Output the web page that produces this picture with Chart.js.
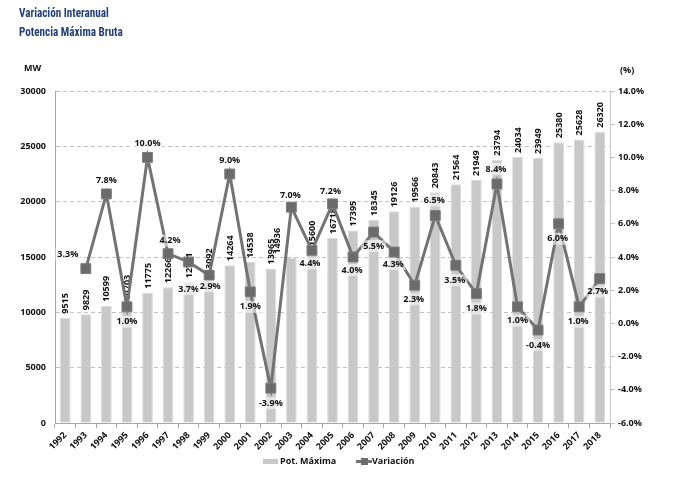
<!DOCTYPE html>
<html><head><meta charset="utf-8">
<script src="https://cdn.jsdelivr.net/npm/chart.js@4.4.1/dist/chart.umd.min.js"></script>
<style>
html,body{margin:0;padding:0;background:#fff;}
#wrap{position:relative;width:690px;height:481px;overflow:hidden;}
canvas{position:absolute;left:0;top:0;}
.t{position:absolute;font-family:"Liberation Sans Narrow","Roboto Condensed","Roboto",sans-serif;font-weight:bold;color:#213f7d;font-size:12px;line-height:14px;white-space:nowrap;transform:scaleX(0.93);transform-origin:0 0;}
.u{position:absolute;font-family:"Open Sans",sans-serif;font-weight:700;font-size:9px;line-height:12px;color:#111;white-space:nowrap;}
</style></head><body>
<div id="wrap">
<canvas id="c" width="690" height="481"></canvas>
<div class="t" style="left:19px;top:6px">Variación Interanual</div>
<div class="t" style="left:19px;top:25px">Potencia Máxima Bruta</div>
<div class="u" style="left:24px;top:62px">MW</div>
<div class="u" style="left:620px;top:64px">(%)</div>
</div>
<script>
const years = ['1992','1993','1994','1995','1996','1997','1998','1999','2000','2001','2002','2003','2004','2005','2006','2007','2008','2009','2010','2011','2012','2013','2014','2015','2016','2017','2018'];
const potMaxima = [9515,9829,10599,10703,11775,12266,12721,13092,14264,14538,13965,14936,15600,16718,17395,18345,19126,19566,20843,21564,21949,23794,24034,23949,25380,25628,26320];
const variacion = [null,3.3,7.8,1.0,10.0,4.2,3.7,2.9,9.0,1.9,-3.9,7.0,4.4,7.2,4.0,5.5,4.3,2.3,6.5,3.5,1.8,8.4,1.0,-0.4,6.0,1.0,2.7];
const seriesNames = ['Pot. Máxima','Variación'];

const FONT = '"Open Sans", "DejaVu Sans", sans-serif';
Chart.defaults.font.family = FONT;
Chart.defaults.font.size = 9;
Chart.defaults.font.weight = 'bold';
Chart.defaults.color = '#111';

const labelPlugin = {
  id: 'valueLabels',
  afterDatasetDraw(chart, args, opts) {
    if (args.index !== 0) return;
    const ctx = chart.ctx;
    const meta = chart.getDatasetMeta(0);
    ctx.save();
    ctx.font = 'bold 9px ' + FONT;
    ctx.fillStyle = '#111';
    ctx.textAlign = 'left';
    ctx.textBaseline = 'middle';
    meta.data.forEach((el, i) => {
      const dx = (opts.barDx && opts.barDx[i]) || 0;
      ctx.save();
      ctx.translate(el.x + dx + 0.5, el.y - 4);
      ctx.rotate(-Math.PI / 2);
      ctx.fillText(String(potMaxima[i]), 0, 0);
      ctx.restore();
    });
    ctx.restore();
  },
  afterDatasetsDraw(chart, args, opts) {
    const ctx = chart.ctx;
    const meta = chart.getDatasetMeta(1);
    ctx.save();
    ctx.font = 'bold 9px ' + FONT;
    ctx.textAlign = 'center';
    ctx.textBaseline = 'middle';
    meta.data.forEach((el, i) => {
      const v = variacion[i];
      if (v === null || v === undefined) return;
      const off = opts.lineOffsets[i] || [0, -13];
      const text = v.toFixed(1) + '%';
      const w = ctx.measureText(text).width;
      const x = el.x + off[0], y = el.y + off[1];
      ctx.fillStyle = 'rgba(255,255,255,0.55)';
      ctx.fillRect(x - w / 2 - 2, y - 6, w + 4, 12);
      ctx.fillStyle = '#111';
      ctx.fillText(text, x, y);
    });
    ctx.restore();
  },
  afterDraw(chart) {
    const ctx = chart.ctx;
    const ds = chart.data.datasets;
    ctx.save();
    ctx.font = 'bold 9px ' + FONT;
    ctx.textBaseline = 'middle';
    ctx.textAlign = 'left';
    const cy = 461.5;
    ctx.fillStyle = ds[0].backgroundColor;
    ctx.fillRect(263, cy - 2.5, 15, 5);
    ctx.fillStyle = '#111';
    ctx.fillText(ds[0].label, 280, cy);
    ctx.strokeStyle = ds[1].borderColor;
    ctx.lineWidth = 3;
    ctx.beginPath();
    ctx.moveTo(356, cy);
    ctx.lineTo(372, cy);
    ctx.stroke();
    ctx.fillStyle = ds[1].pointBackgroundColor;
    ctx.fillRect(361, cy - 3.5, 7, 7);
    ctx.fillStyle = '#111';
    ctx.fillText(ds[1].label, 372, cy);
    ctx.restore();
  }
};

new Chart(document.getElementById('c'), {
  data: {
    labels: years,
    datasets: [
      {
        type: 'bar',
        label: seriesNames[0],
        data: potMaxima,
        yAxisID: 'y',
        backgroundColor: '#c8c8c8',
        borderColor: '#dadada',
        borderWidth: 1,
        barPercentage: 0.52,
        categoryPercentage: 1.0,
        order: 2
      },
      {
        type: 'line',
        label: seriesNames[1],
        data: variacion,
        yAxisID: 'y1',
        borderColor: '#737373',
        borderWidth: 3,
        pointStyle: 'rect',
        pointRadius: 7,
        pointBackgroundColor: '#6b6b6b',
        pointBorderColor: '#7d7d7d',
        pointBorderWidth: 1,
        tension: 0,
        spanGaps: false,
        order: 1
      }
    ]
  },
  options: {
    responsive: false,
    devicePixelRatio: 1,
    animation: false,
    events: [],
    layout: { padding: { top: 91, left: 0, right: 0, bottom: 28 } },
    plugins: {
      legend: { display: false },
      tooltip: { enabled: false },
      valueLabels: {
        barDx: {11: -14},
        lineOffsets: {
          1: [-18, -14], 2: [0, -13], 3: [0, 15], 4: [0, -14], 5: [2, -13],
          6: [0, 27], 7: [1, 11], 8: [0, -14], 9: [0, 15], 10: [0, 15],
          11: [-1, -12], 12: [-2, 13], 13: [-2, -12], 14: [-1, 13], 15: [0, 14],
          16: [-1, 12], 17: [-1, 14], 18: [-1, -15], 19: [-1, 15], 20: [0, 15],
          21: [-1, -15], 22: [0, 14], 23: [0, 15], 24: [-1, 15], 25: [-1, 15], 26: [-2, 13]
        }
      }
    },
    scales: {
      x: {
        offset: true,
        grid: { offset: true, drawOnChartArea: false, drawTicks: true, tickLength: 5, color: '#a6a6a6' },
        border: { display: true, color: '#a6a6a6', width: 1 },
        ticks: { minRotation: 45, maxRotation: 45, autoSkip: false, padding: 2, font: { size: 9, weight: 'bold' }, color: '#111' },
        afterFit(scale) { scale.height = 30; }
      },
      y: {
        position: 'left',
        min: 0, max: 30000,
        ticks: { stepSize: 5000, padding: 9, font: { size: 9, weight: 'bold' }, color: '#111',
          callback: (v) => String(v) },
        grid: {
          drawTicks: false,
          color: (c) => (c.tick && c.tick.value === 0) ? 'rgba(0,0,0,0)' : '#c2c2c2',
          lineWidth: 1
        },
        border: { display: true, color: '#a6a6a6', width: 1, dash: [4, 3] },
        afterFit(scale) { scale.width = 55; }
      },
      y1: {
        position: 'right',
        min: -6, max: 14,
        ticks: { stepSize: 2, padding: 3, font: { size: 9, weight: 'bold' }, color: '#111',
          callback: (v) => Number(v).toFixed(1) + '%' },
        grid: { drawOnChartArea: false, drawTicks: true, tickLength: 5, color: '#c4c4c4' },
        border: { display: true, color: '#c8c8c8', width: 1 },
        afterFit(scale) { scale.width = 80; }
      }
    }
  },
  plugins: [labelPlugin]
});
</script>
</body></html>
